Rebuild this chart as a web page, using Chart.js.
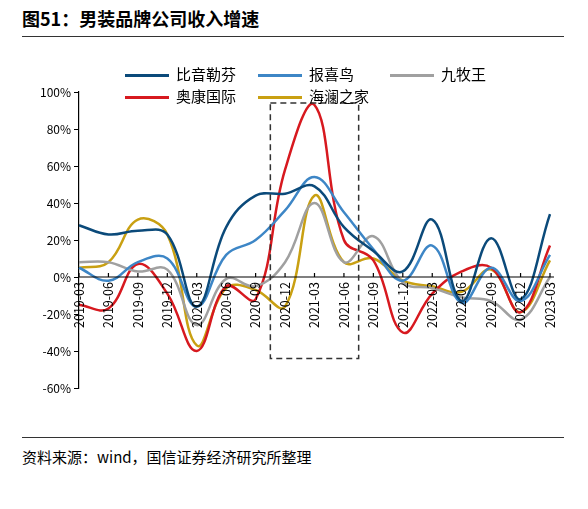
<!DOCTYPE html>
<html lang="zh">
<head>
<meta charset="UTF-8">
<title>男装品牌公司收入增速</title>
<script src="https://cdn.jsdelivr.net/npm/chart.js"></script>
<style>
  body { margin: 0; background: #fff; font-family: "Noto Sans CJK SC", "Noto Sans", sans-serif; }
  #wrap { position: relative; width: 588px; height: 509px; }
  #title { position: absolute; left: 22px; top: 5px; font-size: 18px; font-weight: bold; color: #000; }
  #tline { position: absolute; left: 22px; right: 24px; top: 36px; border-top: 1px solid #333; }
  #sline { position: absolute; left: 22px; right: 24px; top: 437px; border-top: 1px solid #333; }
  #src { position: absolute; left: 22px; top: 446px; font-size: 15px; color: #000; }
  #chartBox { position: absolute; left: 0; top: 60px; width: 588px; height: 350px; }
  .lg { position: absolute; font-size: 15px; color: #000; }
  .lg i { display: inline-block; width: 44px; height: 3px; vertical-align: middle; margin-right: 7px; }
</style>
</head>
<body>
<div id="wrap">
  <div id="title">图51：男装品牌公司收入增速</div>
  <div id="tline"></div>
  <div id="chartBox"><canvas id="myChart"></canvas></div>
  <div id="sline"></div>
  <div id="src">资料来源：wind，国信证券经济研究所整理</div>
</div>

<script>
const labels = ['2019-03','2019-06','2019-09','2019-12','2020-03','2020-06','2020-09','2020-12',
  '2021-03','2021-06','2021-09','2021-12','2022-03','2022-06','2022-09','2022-12','2023-03'];
const biyinlefen = [28, 23, 25, 23, -16, 27, 44, 45, 49, 27, 14, 3, 31, -13, 21, -12, 34];
const baoxiniao  = [5, -2, 8, 10, -16, 12, 20, 36, 54, 35, 15, -2, 17, -14, 5, -13, 12];
const jiumuwang  = [8, 8, 3, 4, -26, -1, -5, 8, 40, 8, 22, -3, -6, -11, -13, -23, 0];
const aokang     = [-15, -17, 7, -9, -40, -5, -12, 58, 93, 20, 9, -30, -9, 3, 5, -19, 17];
const hailan     = [5, 8, 31, 23, -37, -6, -7, -16, 44, 8, 10, -2, -5, -8, 4, -19, 9];

const series = [
  { name: '比音勒芬', data: biyinlefen, color: '#0b4a7a', lx: 125, ly: 63 },
  { name: '报喜鸟', data: baoxiniao, color: '#3d86c6', lx: 258, ly: 63 },
  { name: '九牧王', data: jiumuwang, color: '#a0a0a0', lx: 390, ly: 63 },
  { name: '奥康国际', data: aokang, color: '#d7191f', lx: 125, ly: 85 },
  { name: '海澜之家', data: hailan, color: '#c9a012', lx: 258, ly: 85 }
];

// HTML legend
series.forEach(s => {
  const d = document.createElement('div');
  d.className = 'lg';
  d.style.left = s.lx + 'px';
  d.style.top = s.ly + 'px';
  d.innerHTML = '<i style="background:' + s.color + '"></i>' + s.name;
  document.getElementById('wrap').appendChild(d);
});

// x axis at zero line, rotated labels, and dashed box
const zeroAxis = {
  id: 'zeroAxis',
  afterDatasetsDraw(chart) {
    const ctx = chart.ctx, x = chart.scales.x, y = chart.scales.y;
    const y0 = y.getPixelForValue(0);
    ctx.save();
    ctx.strokeStyle = '#000';
    ctx.lineWidth = 1.2;
    ctx.beginPath();
    ctx.moveTo(chart.chartArea.left, y0);
    ctx.lineTo(chart.chartArea.right + 4, y0);
    labels.forEach((l, i) => {
      const px = x.getPixelForValue(i);
      ctx.moveTo(px, y0);
      ctx.lineTo(px, y0 - 4);
    });
    ctx.stroke();
    ctx.fillStyle = '#000';
    ctx.font = '12.5px "Noto Sans CJK SC", sans-serif';
    ctx.textAlign = 'right';
    ctx.textBaseline = 'middle';
    labels.forEach((l, i) => {
      ctx.save();
      ctx.translate(x.getPixelForValue(i), y0 + 5);
      ctx.rotate(-Math.PI / 2);
      ctx.fillText(l, 0, 0);
      ctx.restore();
    });
    // dashed highlight box
    const bl = (x.getPixelForValue(6) + x.getPixelForValue(7)) / 2;
    const br = (x.getPixelForValue(9) + x.getPixelForValue(10)) / 2;
    ctx.setLineDash([6, 4]);
    ctx.strokeStyle = '#333';
    ctx.lineWidth = 1.5;
    ctx.strokeRect(bl, y.getPixelForValue(94), br - bl, y.getPixelForValue(-44) - y.getPixelForValue(94));
    ctx.restore();
  }
};

new Chart(document.getElementById('myChart').getContext('2d'), {
  type: 'line',
  data: {
    labels: labels,
    datasets: series.map(s => ({
      label: s.name,
      data: s.data,
      borderColor: s.color,
      backgroundColor: s.color,
      borderWidth: 2.5,
      pointRadius: 0,
      tension: 0.4,
      fill: false
    }))
  },
  options: {
    responsive: true,
    maintainAspectRatio: false,
    animation: false,
    layout: { padding: { top: 32, bottom: 14, right: 38, left: 0 } },
    plugins: { legend: { display: false }, tooltip: { enabled: false } },
    scales: {
      x: {
        offset: false,
        grid: { display: false },
        border: { display: false },
        ticks: { display: false }
      },
      y: {
        min: -60, max: 100,
        afterFit(scale) { scale.width = 79; },
        grid: { drawOnChartArea: false, drawTicks: true, tickLength: 5, color: '#000' },
        border: { display: true, color: '#000', width: 1.2 },
        ticks: {
          stepSize: 20,
          color: '#000',
          font: { size: 12, family: '"Noto Sans CJK SC", sans-serif' },
          callback: v => v + '%'
        }
      }
    }
  },
  plugins: [zeroAxis]
});
</script>
</body>
</html>
